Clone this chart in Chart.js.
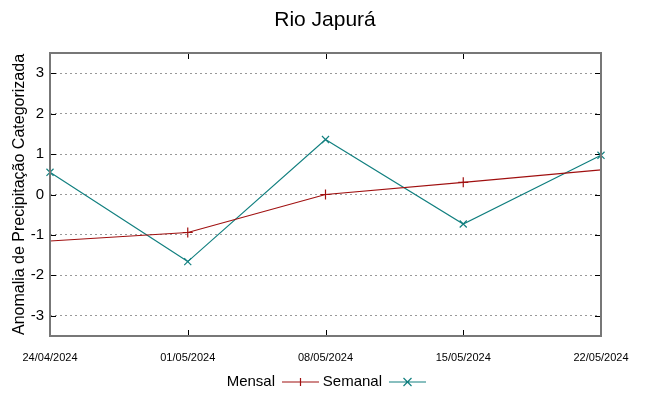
<!DOCTYPE html>
<html>
<head>
<meta charset="utf-8">
<script src="https://cdn.jsdelivr.net/npm/chart.js@4.4.1/dist/chart.umd.min.js"></script>
<style>
  html, body { margin: 0; padding: 0; background: #fff; }
  #wrap { width: 649px; height: 396px; position: relative; }
</style>
</head>
<body>
<div id="wrap"><canvas id="chart"></canvas></div>
<script>
// dados
const datas = ["24/04/2024", "01/05/2024", "08/05/2024", "15/05/2024", "22/05/2024"];
const mensal = [-1.15, -0.94, 0.0, 0.3, 0.61];
const semanal = [0.55, -1.66, 1.36, -0.73, 0.97];
const yTicks = [-3, -2, -1, 0, 1, 2, 3];

const titulo = "Rio Japurá";
const corMensal = "#a01010";
const corSemanal = "#138080";

// moldura, marcas dos eixos, título e legenda (estilo gnuplot)
const extras = {
  id: "extras",
  beforeDatasetsDraw(chart) {
    const { ctx, chartArea: a, scales } = chart;
    ctx.save();
    ctx.strokeStyle = "#000";
    ctx.lineWidth = 1;
    ctx.beginPath();
    yTicks.forEach(v => {
      const y = Math.round(scales.y.getPixelForValue(v)) + 0.5;
      ctx.moveTo(a.left, y); ctx.lineTo(a.left + 6, y);
      ctx.moveTo(a.right, y); ctx.lineTo(a.right - 6, y);
    });
    datas.forEach((d, i) => {
      const x = Math.round(scales.x.getPixelForValue(i)) + 0.5;
      ctx.moveTo(x, a.bottom); ctx.lineTo(x, a.bottom - 6);
      ctx.moveTo(x, a.top); ctx.lineTo(x, a.top + 6);
    });
    ctx.stroke();
    ctx.restore();
  },
  afterDraw(chart) {
    const { ctx, chartArea: a } = chart;
    ctx.save();
    ctx.strokeStyle = "#777";
    ctx.lineWidth = 2;
    ctx.strokeRect(a.left, a.top, a.right - a.left, a.bottom - a.top);

    ctx.fillStyle = "#000";
    ctx.font = "21px 'Liberation Sans', Arial, sans-serif";
    ctx.textAlign = "center";
    ctx.textBaseline = "middle";
    ctx.fillText(titulo, 325, 20);

    // legenda
    ctx.font = "15px 'Liberation Sans', Arial, sans-serif";
    ctx.textAlign = "right";
    const ly = 382;
    const itens = [
      { label: chart.data.datasets[0].label, cor: corMensal, x: 275, marca: "+" },
      { label: chart.data.datasets[1].label, cor: corSemanal, x: 382, marca: "x" }
    ];
    itens.forEach(it => {
      ctx.fillStyle = "#000";
      ctx.fillText(it.label, it.x, ly);
      const x0 = it.x + 7, x1 = it.x + 44, xm = (x0 + x1) / 2;
      ctx.strokeStyle = it.cor;
      ctx.lineWidth = 1.2;
      ctx.beginPath();
      ctx.moveTo(x0, ly); ctx.lineTo(x1, ly);
      if (it.marca === "+") {
        ctx.moveTo(xm, ly - 4); ctx.lineTo(xm, ly + 4);
      } else {
        ctx.moveTo(xm - 4, ly - 4); ctx.lineTo(xm + 4, ly + 4);
        ctx.moveTo(xm - 4, ly + 4); ctx.lineTo(xm + 4, ly - 4);
      }
      ctx.stroke();
    });
    ctx.restore();
  }
};

new Chart(document.getElementById("chart"), {
  type: "line",
  data: {
    labels: datas,
    datasets: [
      {
        label: "Mensal",
        data: mensal,
        borderColor: corMensal,
        backgroundColor: corMensal,
        borderWidth: 1.2,
        pointStyle: "cross",
        pointRadius: [0, 5, 5, 5, 0],
        pointBorderWidth: 1.2,
        tension: 0
      },
      {
        label: "Semanal",
        data: semanal,
        borderColor: corSemanal,
        backgroundColor: corSemanal,
        borderWidth: 1.2,
        pointStyle: "crossRot",
        pointRadius: 5,
        pointBorderWidth: 1.2,
        tension: 0
      }
    ]
  },
  options: {
    responsive: true,
    maintainAspectRatio: false,
    animation: false,
    layout: { padding: { top: 53, right: 48, left: 10, bottom: 0 } },
    plugins: {
      legend: { display: false },
      title: { display: false },
      tooltip: { enabled: false }
    },
    scales: {
      x: {
        offset: false,
        grid: { display: false },
        border: { display: false },
        ticks: {
          color: "#000",
          font: { family: "'Liberation Sans', Arial", size: 11 },
          maxRotation: 0,
          autoSkip: false,
          padding: 7
        },
        afterFit(scale) { scale.height = 60; }
      },
      y: {
        min: -3.5,
        max: 3.5,
        afterBuildTicks(scale) { scale.ticks = yTicks.map(v => ({ value: v })); },
        grid: {
          color: "#999",
          lineWidth: 1,
          drawTicks: false
        },
        border: { display: false, dash: [2, 3] },
        ticks: {
          color: "#000",
          font: { family: "'Liberation Sans', Arial", size: 15 },
          padding: 6
        },
        title: {
          display: true,
          text: "Anomalia de Precipitação Categorizada",
          color: "#000",
          font: { family: "'Liberation Sans', Arial", size: 16 },
          padding: 0
        },
        afterFit(scale) { scale.width = 40; }
      }
    }
  },
  plugins: [extras]
});
</script>
</body>
</html>
